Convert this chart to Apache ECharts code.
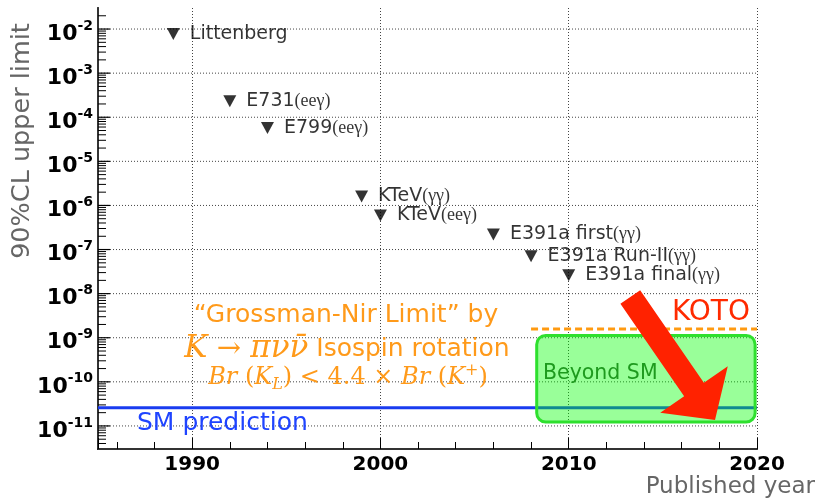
<!DOCTYPE html>
<html><head><meta charset="utf-8">
<script src="https://cdn.jsdelivr.net/npm/echarts@6/dist/echarts.min.js"></script>
<style>html,body{margin:0;padding:0;background:#fff}#c{width:819px;height:502px}</style>
</head><body><div id="c"></div>
<script>
// ---- data ----
const years = [1989, 1992, 1994, 1999, 2000, 2006, 2008, 2010];
const limits = [7.7e-3, 2.3e-4, 5.7e-5, 1.6e-6, 5.9e-7, 2.2e-7, 7.0e-8, 2.6e-8];
const expNames = ['Littenberg', 'E731', 'E799', 'KTeV', 'KTeV', 'E391a first', 'E391a Run-II', 'E391a final'];
const expModes = ['', '(eeγ)', '(eeγ)', '(γγ)', '(eeγ)', '(γγ)', '(γγ)', '(γγ)'];
const smPrediction = 2.6e-11;
const kotoYears = [2008, 2020];
const kotoLimit = 1.58e-9;
const beyondSMRegion = [2008.3, 1.13e-9, 2019.9, 1.23e-11];
const arrowFromTo = [2013.27, 8.4e-9, 2017.77, 1.37e-11];
const xRange = [1985, 2020];
const yRange = [3e-12, 3e-2];
const xTickLabels = [1990, 2000, 2010, 2020];
const yTickExponents = [-11, -10, -9, -8, -7, -6, -5, -4, -3, -2];
const yMinorDecades = [-12, -11, -10, -9, -8, -7, -6, -5, -4, -3, -2];
const minorMultipliers = [2, 3, 4, 5, 6, 7, 8, 9];

const minorValues = [];
yMinorDecades.forEach(d => minorMultipliers.forEach(m => {
  const v = m * Math.pow(10, d);
  if (v > yRange[0] && v < yRange[1]) minorValues.push([xRange[0], v]);
}));
const majorValues = yTickExponents.map(e => [xRange[0], Math.pow(10, e), e]);

const chart = echarts.init(document.getElementById('c'), null, {renderer: 'canvas'});
const option = {
  animation: false,
  backgroundColor: '#fff',
  grid: {left: 98, right: 62, top: 8, bottom: 53},
  xAxis: [{
    type: 'value', min: xRange[0], max: xRange[1], splitNumber: 4,
    axisLine: {show: true, onZero: false, lineStyle: {color: '#000', width: 2}},
    axisTick: {show: true, inside: true, length: 11, lineStyle: {color: '#000', width: 1}},
    minorTick: {show: true, splitNumber: 5, length: 7, lineStyle: {color: '#000', width: 1}},
    splitLine: {show: true, lineStyle: {color: '#444', width: 1, type: [1, 2]}},
    axisLabel: {
      margin: 6, color: '#000', fontFamily: 'DejaVu Sans', fontWeight: 'bold', fontSize: 20,
      formatter: v => xTickLabels.indexOf(Math.round(v)) >= 0 && Math.abs(v - Math.round(v)) < 1e-6 ? String(Math.round(v)) : ''
    }
  }, {
    type: 'value', position: 'top', min: 0, max: 1,
    axisLine: {show: true, lineStyle: {color: '#444', width: 1.5}},
    axisTick: {show: false}, axisLabel: {show: false}, splitLine: {show: false}
  }],
  yAxis: [{
    type: 'log', logBase: 10, min: yRange[0], max: yRange[1],
    axisLine: {show: true, onZero: false, lineStyle: {color: '#000', width: 2}},
    axisTick: {show: false}, splitLine: {show: false}, axisLabel: {show: false}
  }, {
    type: 'value', position: 'right', min: 0, max: 1,
    axisLine: {show: true, lineStyle: {color: '#444', width: 1.5}},
    axisTick: {show: false}, axisLabel: {show: false}, splitLine: {show: false}
  }],
  series: [
    {
      type: 'custom', name: 'yMajorTicks', z: 1, silent: true,
      data: majorValues,
      encode: {x: 0, y: 1},
      renderItem: (params, api) => {
        const v = api.value(1), e = api.value(2);
        const p = api.coord([xRange[0], v]);
        const q = api.coord([xRange[1], v]);
        return {type: 'group', children: [
          {type: 'line', shape: {x1: p[0], y1: p[1], x2: q[0], y2: p[1]}, style: {stroke: '#444', lineWidth: 1, lineDash: [1, 2]}},
          {type: 'line', shape: {x1: p[0], y1: p[1], x2: p[0] + 12, y2: p[1]}, style: {stroke: '#000', lineWidth: 1.2}},
          {type: 'text', x: p[0] - 5, y: p[1] + 3, style: {
            text: '{b|10}{s|' + e + '}', align: 'right', verticalAlign: 'middle',
            rich: {
              b: {fill: '#000', fontFamily: 'DejaVu Sans', fontWeight: 'bold', fontSize: 22, lineHeight: 26, verticalAlign: 'bottom'},
              s: {fill: '#000', fontFamily: 'DejaVu Sans', fontWeight: 'bold', fontSize: 14, lineHeight: 15, verticalAlign: 'top'}
            }
          }}
        ]};
      }
    },
    {
      type: 'custom', name: 'yMinorTicks', z: 3, silent: true,
      data: minorValues,
      encode: {x: 0, y: 1},
      renderItem: (params, api) => {
        const p = api.coord([api.value(0), api.value(1)]);
        return {type: 'line', shape: {x1: p[0], y1: p[1], x2: p[0] + 8, y2: p[1]}, style: {stroke: '#000', lineWidth: 1}};
      }
    },
    {
      type: 'line', name: 'SM prediction', z: 2, symbol: 'none', silent: true,
      data: [[xRange[0], smPrediction], [xRange[1], smPrediction]],
      lineStyle: {color: '#1a3cf0', width: 3}
    },
    {
      type: 'custom', name: 'Beyond SM', z: 4, silent: true,
      data: [beyondSMRegion],
      encode: {x: [0, 2], y: [1, 3]},
      renderItem: (params, api) => {
        const a = api.coord([api.value(0), api.value(1)]);
        const b = api.coord([api.value(2), api.value(3)]);
        return {type: 'rect', shape: {x: a[0], y: a[1], width: b[0] - a[0], height: b[1] - a[1], r: 9},
          style: {fill: 'rgba(0,255,0,0.4)', stroke: '#2ee02e', lineWidth: 3}};
      }
    },
    {
      type: 'line', name: 'KOTO', z: 5, symbol: 'none', silent: true,
      data: [[kotoYears[0], kotoLimit], [kotoYears[1], kotoLimit]],
      lineStyle: {color: '#ff9a10', width: 3, type: [7, 4]}
    },
    {
      type: 'scatter', name: 'limits', z: 6,
      symbol: 'triangle', symbolRotate: 180, symbolSize: [13, 12],
      itemStyle: {color: '#000'},
      data: years.map((y, i) => [y, limits[i]]),
      label: {
        show: true, position: 'right', distance: 10, color: '#000',
        formatter: p => '{n|' + expNames[p.dataIndex] + '}' + (expModes[p.dataIndex] ? '{p|' + expModes[p.dataIndex] + '}' : ''),
        rich: {
          n: {fontFamily: 'DejaVu Sans', fontSize: 19, color: '#000'},
          p: {fontFamily: 'Liberation Serif', fontSize: 18, color: '#000'}
        }
      }
    },
    {
      type: 'custom', name: 'arrow', z: 7, silent: true,
      data: [arrowFromTo],
      encode: {x: [0, 2], y: [1, 3]},
      renderItem: (params, api) => {
        const a = api.coord([api.value(0), api.value(1)]);
        const b = api.coord([api.value(2), api.value(3)]);
        const dx = b[0] - a[0], dy = b[1] - a[1], L = Math.hypot(dx, dy);
        const ux = dx / L, uy = dy / L, px = -uy, py = ux;
        const sw = 12, hw = 41, hl = 37;
        const bx = b[0] - ux * hl, by = b[1] - uy * hl;
        return {type: 'polygon', shape: {points: [
          [a[0] + px * sw, a[1] + py * sw], [bx + px * sw, by + py * sw], [bx + px * hw, by + py * hw],
          [b[0], b[1]], [bx - px * hw, by - py * hw], [bx - px * sw, by - py * sw], [a[0] - px * sw, a[1] - py * sw]
        ]}, style: {fill: '#ff2200'}};
      }
    }
  ],
  graphic: [
    {type: 'text', z: 100, x: 22, y: 141, rotation: Math.PI / 2,
      style: {text: '90%CL upper limit', fill: '#666', fontFamily: 'DejaVu Sans', fontSize: 25.5, align: 'center', verticalAlign: 'middle'}},
    {type: 'text', z: 100, x: 815, y: 487,
      style: {text: 'Published year', fill: '#666', fontFamily: 'DejaVu Sans', fontSize: 23, align: 'right', verticalAlign: 'middle'}},
    {type: 'text', z: 100, x: 346, y: 315,
      style: {text: '“Grossman-Nir Limit” by', fill: '#ff9a1a', fontFamily: 'DejaVu Sans', fontSize: 25, align: 'center', verticalAlign: 'middle'}},
    {type: 'text', z: 100, x: 347, y: 349,
      style: {text: '{m|K}{r| → }{m|πνν\u0304}{t| Isospin rotation}', align: 'center', verticalAlign: 'middle',
        rich: {
          m: {fill: '#ff9a1a', fontFamily: 'DejaVu Serif', fontStyle: 'italic', fontSize: 31},
          r: {fill: '#ff9a1a', fontFamily: 'DejaVu Serif', fontSize: 29},
          t: {fill: '#ff9a1a', fontFamily: 'DejaVu Sans', fontSize: 25}
        }}},
    {type: 'text', z: 100, x: 348, y: 378,
      style: {text: '{m|Br}{u| (}{m|K}{sub|L}{u|) < 4.4 × }{m|Br}{u| (}{m|K}{sup|+}{u|)}', align: 'center', verticalAlign: 'middle',
        rich: {
          m: {fill: '#ff9a1a', fontFamily: 'DejaVu Serif', fontStyle: 'italic', fontSize: 24, lineHeight: 30},
          u: {fill: '#ff9a1a', fontFamily: 'DejaVu Serif', fontSize: 24, lineHeight: 30},
          sub: {fill: '#ff9a1a', fontFamily: 'DejaVu Serif', fontStyle: 'italic', fontSize: 16, verticalAlign: 'bottom'},
          sup: {fill: '#ff9a1a', fontFamily: 'DejaVu Serif', fontSize: 16, verticalAlign: 'top'}
        }}},
    {type: 'text', z: 100, x: 137, y: 423,
      style: {text: 'SM prediction', fill: '#1f44ff', fontFamily: 'DejaVu Sans', fontSize: 25, align: 'left', verticalAlign: 'middle'}},
    {type: 'text', z: 100, x: 672, y: 313,
      style: {text: 'KOTO', fill: '#ff2a00', fontFamily: 'DejaVu Sans', fontSize: 28, align: 'left', verticalAlign: 'middle'}},
    {type: 'text', z: 100, x: 543, y: 374,
      style: {text: 'Beyond SM', fill: '#1e9a1e', fontFamily: 'DejaVu Sans', fontSize: 20.5, align: 'left', verticalAlign: 'middle'}}
  ]
};
chart.setOption(option);
</script>
</body></html>
